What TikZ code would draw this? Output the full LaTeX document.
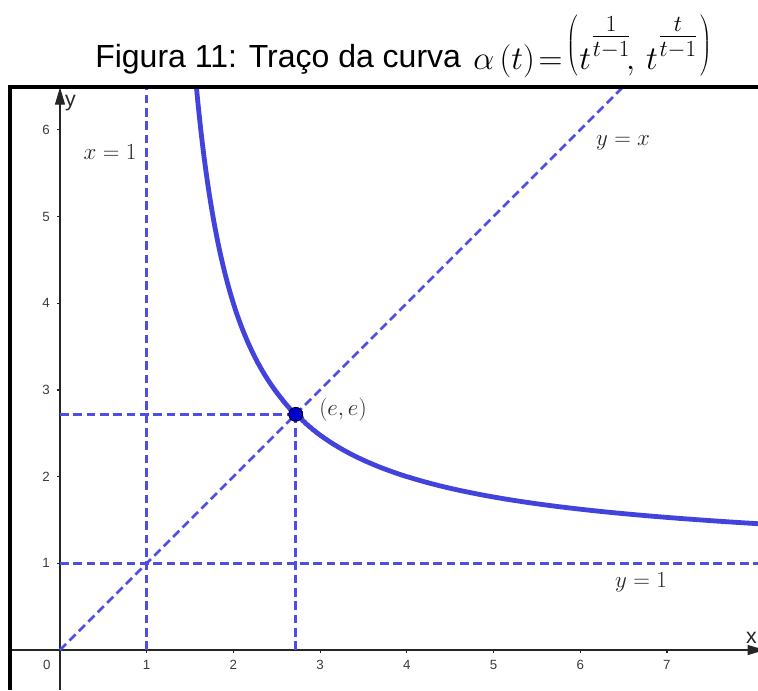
\documentclass[tikz,border=0pt]{standalone}
\usepackage{fontspec}
\usepackage{graphicx}
\setmainfont{Liberation Sans}
\usetikzlibrary{arrows.meta}
\definecolor{curveblue}{RGB}{66,66,220}
\definecolor{dashblue}{RGB}{78,78,228}
\definecolor{dotblue}{RGB}{0,0,205}
\definecolor{ticktext}{RGB}{60,60,60}
\newcommand\myLparen{\raisebox{11.5pt}{\scalebox{1}[1.09]{$\left(\vrule height 27pt depth 15pt width 0pt\right.$}}}
\newcommand\myRparen{\raisebox{11.5pt}{\scalebox{1}[1.09]{$\left.\vrule height 27pt depth 15pt width 0pt\right)$}}}
\newcommand\myExp[1]{\raisebox{10pt}{$\frac{#1}{t-1}$}}
\begin{document}
\begin{tikzpicture}[x=65.03pt,y=65.03pt,
  dashln/.style={dashblue,line width=2.1pt,dash pattern=on 6.5pt off 3.5pt},
  curveln/.style={curveblue,line width=3.6pt},
  axisln/.style={black!85,line width=0.9pt},
  axtip/.style={-{Triangle[length=13pt,width=7.5pt]}},
  ticklbl/.style={font=\fontsize{10}{12}\selectfont,text=ticktext,inner sep=0pt},
  mathlbl/.style={font=\fontsize{18}{20}\selectfont,text=black!85,inner sep=0pt},
  axlbl/.style={font=\fontsize{16}{18}\selectfont,text=black!85,inner sep=0pt},
  border/.style={line width=3pt,black}]
\useasboundingbox (-0.6920,-0.4614) rectangle (8.0507,7.4971);
% coordinates
\coordinate (O) at (0,0);
\coordinate (xs) at (-0.56,0);
\coordinate (xe) at (8.13,0);
\coordinate (ys) at (0,-0.4614);
\coordinate (ye) at (0,6.49);
\coordinate (E) at ({exp(1)},{exp(1)});
\coordinate (Ex) at ({exp(1)},0);
\coordinate (Ey) at (0,{exp(1)});
\coordinate (x1b) at (1,0);
\coordinate (x1t) at (1,6.4937);
\coordinate (y1l) at (0,1);
\coordinate (y1r) at (8.0507,1);
\coordinate (yxt) at (6.4937,6.4937);
% axes
\draw[axisln,axtip] (xs) -- (xe);
\draw[axisln,axtip] (ys) -- (ye);
\foreach \i in {1,...,7} {
  \draw[axisln] (\i,0) -- (\i,-0.035);
  \node[ticklbl] (xt\i) at (\i,-0.173) {\i};
}
\foreach \j in {1,...,6} {
  \draw[axisln] (0,\j) -- (-0.035,\j);
  \node[ticklbl] (yt\j) at (-0.161,\j) {\j};
}
\node[ticklbl] (xt0) at (-0.153,-0.173) {0};
\node[axlbl] (ylab) at (0.121,6.303) {y};
\node[axlbl] (xlab) at (7.975,0.144) {x};
% dashed lines
\draw[dashln] (x1b) -- (x1t);
\draw[dashln] (y1l) -- (y1r);
\draw[dashln] (O) -- (yxt);
\draw[dashln] (Ex) -- (E);
\draw[dashln] (Ey) -- (E);
% curve
\begin{scope}
\clip (-0.56,-0.4614) rectangle (8.0507,6.4937);
\draw[curveln,line join=round]
  plot[domain=0.17:0.995,samples=220,variable=\t] ({exp(ln(\t)/(\t-1))},{exp(\t*ln(\t)/(\t-1))})
  -- plot[domain=1.005:4.4,samples=160,variable=\t] ({exp(ln(\t)/(\t-1))},{exp(\t*ln(\t)/(\t-1))});
\end{scope}
% point
\node[circle,fill=dotblue,draw=black,line width=0.6pt,minimum size=10.5pt,inner sep=0pt] (pt) at (E) {};
% labels
\node[mathlbl] (lx1) at (0.5767,5.744) {$x=1$};
\node[mathlbl] (lyx) at (6.494,5.848) {$y=x$};
\node[mathlbl] (ly1) at (6.701,0.784) {$y=1$};
\node[mathlbl] (lee) at (3.264,2.768) {$(e,e)$};
% border
\draw[border] (-0.5767,-0.4614) -- (-0.5767,6.4937) -- (8.0507,6.4937);
% title
\node[anchor=base west,inner sep=0pt,font=\fontsize{24}{28}\selectfont] (title) at (0.4037,6.724)
  {Figura 11: Traço da curva};
\node[anchor=base west,inner sep=0pt,font=\fontsize{24}{28}\selectfont] (formula) at (4.764,6.69)
  {$\alpha\,(t)\!=\!\myLparen t^{\myExp{1}}\!,\,t^{\myExp{t}}\myRparen$};
\end{tikzpicture}
\end{document}
